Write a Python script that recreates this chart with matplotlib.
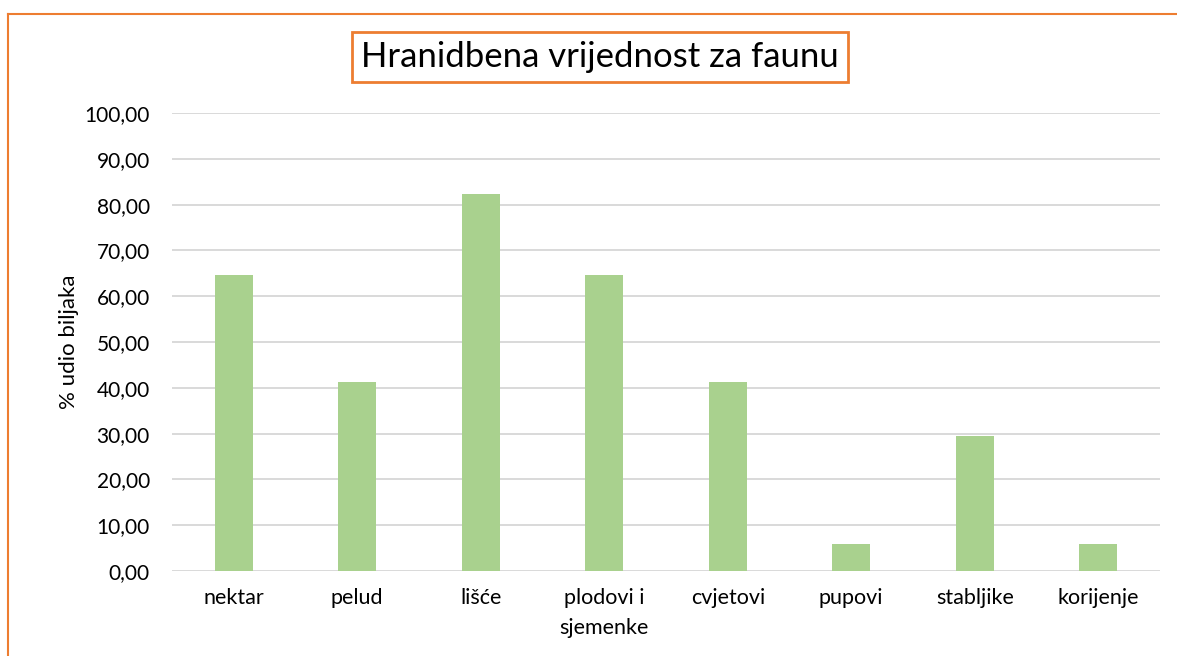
import matplotlib
matplotlib.use("Agg")
import matplotlib.pyplot as plt
import numpy as np
from matplotlib.lines import Line2D

# data
categories = ["nektar", "pelud", "lišće", "plodovi i\nsjemenke", "cvjetovi",
              "pupovi", "stabljike", "korijenje"]
values = [64.71, 41.18, 82.35, 64.71, 41.18, 5.88, 29.41, 5.88]
yticks = [0, 10, 20, 30, 40, 50, 60, 70, 80, 90, 100]

plt.rcParams['font.family'] = ['Lato', 'DejaVu Sans']

fig = plt.figure(figsize=(11.77, 6.56), dpi=100)
ax = fig.add_axes([172 / 1177, 1 - 571 / 656, 988 / 1177, 458 / 656])

x = np.arange(len(categories))
ax.bar(x, values, width=0.31, color="#a9d18e", zorder=3)

ax.set_xlim(-0.5, len(categories) - 0.5)
ax.set_ylim(0, 100)
ax.set_yticks(yticks)
ax.yaxis.set_major_formatter(matplotlib.ticker.FuncFormatter(lambda v, p: ("%.2f" % v).replace(".", ",")))
ax.set_xticks(x)
ax.set_xticklabels(categories, fontsize=15.5, linespacing=1.65, va="top")
ax.tick_params(axis="y", labelsize=15, length=0, pad=16)
ax.tick_params(axis="x", length=0, pad=12)
ax.grid(axis="y", color="#d9d9d9", linewidth=1.4, zorder=0)
for s in ax.spines.values():
    s.set_visible(False)
ax.set_ylabel("% udio biljaka", fontsize=16, labelpad=4)

# title in orange box
fig.text(600 / 1177, 1 - 57 / 656, "Hranidbena vrijednost za faunu", fontsize=25,
         ha="center", va="center",
         bbox=dict(boxstyle="square,pad=0.25", facecolor="white",
                   edgecolor="#ed7d31", linewidth=2))

# orange chart border (left and top edges)
fig.add_artist(Line2D([8 / 1177, 8 / 1177], [0, 1 - 14 / 656],
                      color="#ed7d31", linewidth=1.5, transform=fig.transFigure))
fig.add_artist(Line2D([8 / 1177, 1], [1 - 14 / 656, 1 - 14 / 656],
                      color="#ed7d31", linewidth=1.5, transform=fig.transFigure))

fig.savefig("out.png", dpi=100)
